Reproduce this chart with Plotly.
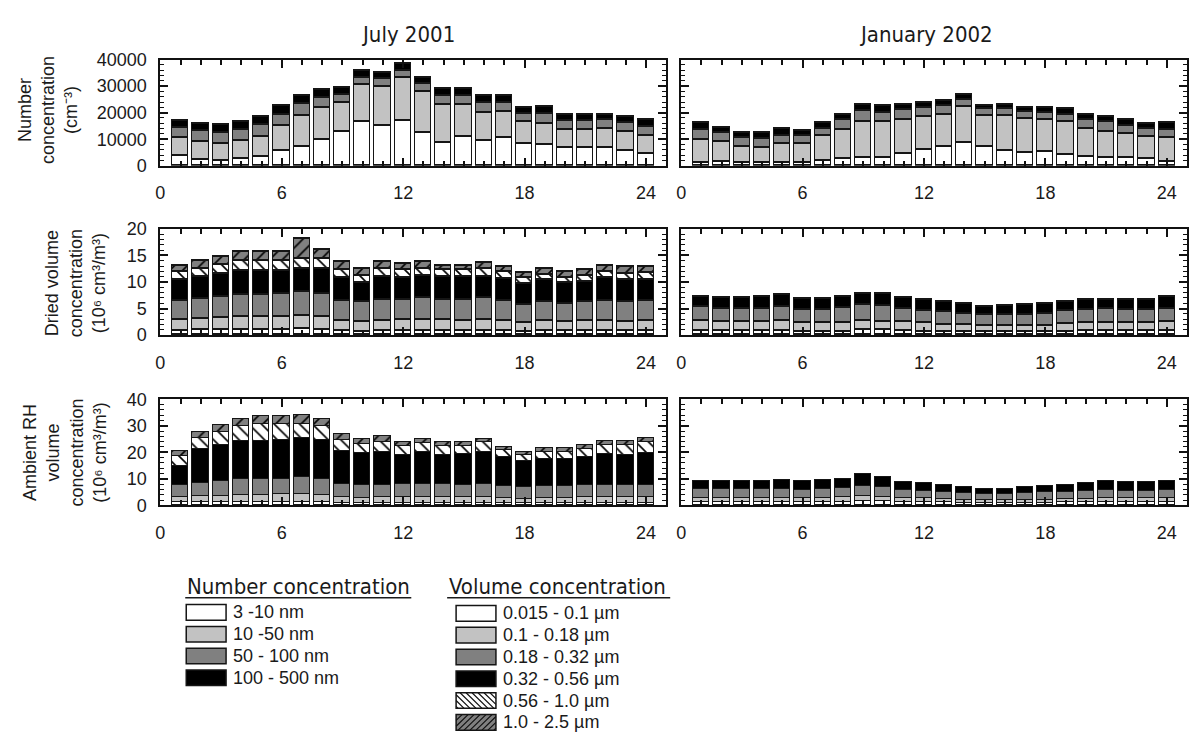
import plotly.graph_objects as go

W, H = 1195, 745

hours = list(range(1, 25))

# ---- Number concentration (cm^-3) by size bin ----
jul_n_3_10 = [3900, 2300, 1900, 2500, 3600, 5800, 7300, 10000, 12800, 16600, 15000, 16900,
              12500, 8800, 10900, 9500, 10600, 8200, 7900, 6700, 6700, 6900, 5700, 4500]
jul_n_10_50 = [6700, 6800, 6400, 6800, 7500, 9200, 11700, 11900, 10900, 14000, 15000, 16200,
               15300, 14200, 12100, 10700, 9800, 8300, 8100, 6900, 6900, 6900, 7200, 6800]
jul_n_50_100 = [3700, 4100, 4000, 4400, 4300, 4400, 4400, 3800, 3000, 2700, 2700, 2700,
                3200, 3600, 3600, 3700, 3500, 3300, 3800, 3400, 3400, 3400, 3400, 3400]
jul_n_100_500 = [2600, 2700, 3100, 2800, 3100, 3100, 3200, 3100, 2600, 2600, 2500, 2800,
                 2400, 2400, 2400, 2400, 2400, 2200, 2600, 2200, 2200, 2200, 2300, 2700]

jan_n_3_10 = [1300, 1700, 1300, 1200, 1300, 1300, 1800, 2600, 3200, 3200, 4500, 6000,
              7100, 8700, 7200, 5600, 5000, 5300, 4000, 3600, 2900, 2900, 2600, 1700]
jan_n_10_50 = [8600, 7300, 5900, 5700, 6900, 7200, 9400, 11000, 13500, 13500, 13000, 12500,
               12300, 13500, 11800, 13200, 12700, 12200, 12600, 10300, 10100, 9200, 8300, 8900]
jan_n_50_100 = [3700, 3400, 3400, 3300, 3300, 2800, 2900, 3700, 3900, 3500, 3500, 3400,
                3100, 2700, 2500, 2700, 2700, 2600, 2800, 3400, 3700, 3000, 3000, 3100]
jan_n_100_500 = [2500, 2100, 2000, 2100, 2400, 2100, 2300, 2100, 2500, 2300, 2100, 1900,
                 1900, 2000, 1300, 1700, 1600, 1900, 2100, 1800, 1800, 2200, 2100, 2500]

# ---- Dried volume concentration (10^6 cm^3/m^3) by size bin ----
jul_dv_015_01 = [0.8, 0.9, 0.9, 1.0, 1.0, 1.0, 1.1, 1.0, 0.7, 0.6, 0.7, 0.7,
                 0.7, 0.7, 0.7, 0.7, 0.7, 0.6, 0.7, 0.7, 0.7, 0.7, 0.7, 0.7]
jul_dv_01_018 = [2.0, 2.1, 2.3, 2.4, 2.4, 2.5, 2.5, 2.5, 2.0, 1.9, 2.0, 2.1,
                 2.1, 2.1, 2.0, 2.1, 2.0, 1.7, 2.0, 1.8, 2.0, 2.0, 1.8, 2.0]
jul_dv_018_032 = [3.7, 3.8, 4.0, 4.2, 4.2, 4.2, 4.5, 4.3, 3.8, 3.7, 4.0, 3.9,
                  4.1, 3.9, 4.0, 4.1, 3.7, 3.4, 3.5, 3.4, 3.5, 3.8, 3.7, 3.7]
jul_dv_032_056 = [3.9, 4.2, 4.4, 4.4, 4.4, 4.3, 4.3, 4.6, 4.2, 3.7, 4.2, 4.0,
                  4.3, 4.2, 4.2, 4.1, 4.2, 3.9, 4.1, 3.9, 3.9, 4.2, 4.2, 4.0]
jul_dv_056_10 = [1.4, 1.5, 1.7, 1.9, 1.9, 1.9, 2.0, 1.9, 1.5, 1.2, 1.5, 1.5,
                 1.3, 1.3, 1.3, 1.5, 1.2, 1.1, 1.1, 1.0, 1.1, 1.2, 1.2, 1.3]
jul_dv_10_25 = [1.3, 1.4, 1.5, 1.7, 1.7, 1.7, 3.7, 1.7, 1.6, 1.3, 1.4, 1.2,
                1.3, 0.9, 0.9, 1.1, 1.0, 1.0, 1.1, 1.1, 1.0, 1.1, 1.2, 1.1]

jan_dv_015_01 = [0.8, 0.8, 0.8, 0.8, 0.8, 0.6, 0.6, 0.6, 1.0, 0.9, 0.8, 0.6,
                 0.6, 0.6, 0.5, 0.6, 0.6, 0.6, 0.6, 0.7, 0.7, 0.7, 0.7, 0.8]
jan_dv_01_018 = [1.9, 1.7, 1.6, 1.6, 1.8, 1.7, 1.7, 1.7, 1.7, 1.5, 1.6, 1.7,
                 1.3, 1.3, 1.2, 1.2, 1.2, 1.2, 1.5, 1.6, 1.6, 1.6, 1.6, 1.7]
jan_dv_018_032 = [2.5, 2.5, 2.5, 2.6, 2.6, 2.5, 2.5, 2.8, 2.9, 3.0, 2.5, 2.3,
                  2.4, 2.1, 2.0, 2.0, 2.0, 2.2, 2.4, 2.5, 2.6, 2.5, 2.5, 2.5]
jan_dv_032_056 = [1.9, 1.9, 2.0, 2.1, 2.3, 2.0, 2.0, 2.1, 2.2, 2.3, 2.1, 2.1,
                  1.9, 1.8, 1.6, 1.6, 1.8, 1.8, 1.7, 1.8, 1.8, 1.8, 1.8, 2.1]
jan_dv_056_10 = [0.0] * 24
jan_dv_10_25 = [0.0] * 24

# ---- Ambient RH volume concentration (10^6 cm^3/m^3) by size bin ----
jul_av_015_01 = [1.0, 1.0, 1.0, 1.1, 1.1, 1.1, 1.2, 1.1, 0.8, 0.8, 0.8, 0.8,
                 0.8, 0.8, 0.8, 0.8, 0.8, 0.7, 0.8, 0.8, 0.8, 0.8, 0.8, 0.8]
jul_av_01_018 = [2.2, 2.5, 2.6, 2.6, 2.7, 2.9, 3.0, 2.7, 2.2, 2.0, 2.2, 2.2,
                 2.2, 2.2, 2.2, 2.2, 2.0, 1.6, 1.9, 1.9, 2.2, 2.2, 2.2, 2.2]
jul_av_018_032 = [4.3, 5.0, 5.5, 6.1, 6.2, 6.0, 6.3, 6.2, 4.9, 4.7, 4.5, 4.8,
                  5.1, 4.8, 4.7, 5.0, 4.5, 4.4, 4.5, 4.5, 4.5, 4.5, 4.5, 4.5]
jul_av_032_056 = [7.1, 12.6, 13.5, 14.4, 14.2, 14.6, 14.9, 14.6, 12.6, 12.0, 12.4, 11.1,
                  12.0, 11.2, 11.6, 12.1, 10.7, 9.8, 10.2, 10.0, 10.8, 11.8, 11.4, 12.1]
jul_av_056_10 = [4.0, 4.3, 4.9, 5.6, 6.5, 6.1, 5.3, 5.4, 3.9, 3.7, 3.9, 3.2,
                 3.2, 3.1, 2.8, 3.5, 2.7, 2.4, 2.5, 2.7, 2.8, 3.3, 3.7, 4.0]
jul_av_10_25 = [1.9, 2.3, 2.7, 2.5, 2.8, 2.9, 3.1, 2.6, 2.3, 1.6, 2.2, 1.7,
                1.8, 1.5, 1.5, 1.2, 1.3, 1.2, 1.5, 1.5, 1.5, 1.6, 1.4, 1.8]

jan_av_015_01 = [1.1, 1.1, 1.1, 1.1, 1.1, 1.1, 1.1, 1.1, 1.4, 1.4, 1.1, 1.1,
                 1.0, 0.9, 0.9, 0.9, 0.9, 0.9, 1.0, 1.0, 1.1, 1.1, 1.1, 1.1]
jan_av_01_018 = [1.7, 1.7, 1.7, 1.7, 1.7, 1.5, 1.7, 2.0, 2.1, 1.8, 1.5, 1.5,
                 1.2, 1.1, 1.0, 1.0, 1.1, 1.1, 1.2, 1.4, 1.5, 1.5, 1.5, 1.7]
jan_av_018_032 = [3.2, 3.2, 3.2, 3.2, 3.2, 3.2, 3.2, 3.4, 3.8, 3.7, 3.1, 2.8,
                  2.9, 2.4, 2.3, 2.3, 2.4, 2.8, 2.9, 3.0, 3.1, 2.8, 2.8, 2.9]
jan_av_032_056 = [3.0, 3.0, 3.0, 3.2, 3.5, 3.2, 3.3, 3.5, 4.5, 3.5, 2.9, 2.8,
                  2.6, 2.3, 2.0, 2.0, 2.3, 2.4, 2.6, 2.9, 3.3, 3.3, 3.3, 3.3]
jan_av_056_10 = [0.0] * 24
jan_av_10_25 = [0.0] * 24

number_bins = ["3 -10 nm", "10 -50 nm", "50 - 100 nm", "100 - 500 nm"]
volume_bins = ["0.015 - 0.1 \u00b5m", "0.1 - 0.18 \u00b5m", "0.18 - 0.32 \u00b5m",
               "0.32 - 0.56 \u00b5m", "0.56 - 1.0 \u00b5m", "1.0 - 2.5 \u00b5m"]
column_titles = ["July 2001", "January 2002"]
x_ticks = [0, 6, 12, 18, 24]

# fill styles shared by both legends: (fill colour, hatch shape)
STYLES = [("#ffffff", ""), ("#c2c2c2", ""), ("#808080", ""), ("#000000", ""),
          ("#ffffff", "\\"), ("#808080", "/")]

AXIS_FONT = dict(family="Liberation Sans, Arial, sans-serif", size=18, color="#1a1a1a")
TITLE_FONT = dict(family="DejaVu Sans Condensed, DejaVu Sans, sans-serif", size=22, color="#1a1a1a")
LEG_TITLE_FONT = dict(family="DejaVu Sans Condensed, DejaVu Sans, sans-serif", size=22, color="#1a1a1a")
LEG_ITEM_FONT = dict(family="Liberation Sans, Arial, sans-serif", size=18, color="#1a1a1a")

panels = [
    # (row, col, y-range, major dtick, minor dtick, segments)
    (0, 0, 40000, 10000, 2000, [jul_n_3_10, jul_n_10_50, jul_n_50_100, jul_n_100_500]),
    (0, 1, 40000, 10000, 2000, [jan_n_3_10, jan_n_10_50, jan_n_50_100, jan_n_100_500]),
    (1, 0, 20, 5, 1, [jul_dv_015_01, jul_dv_01_018, jul_dv_018_032, jul_dv_032_056,
                      jul_dv_056_10, jul_dv_10_25]),
    (1, 1, 20, 5, 1, [jan_dv_015_01, jan_dv_01_018, jan_dv_018_032, jan_dv_032_056,
                      jan_dv_056_10, jan_dv_10_25]),
    (2, 0, 40, 10, 2, [jul_av_015_01, jul_av_01_018, jul_av_018_032, jul_av_032_056,
                       jul_av_056_10, jul_av_10_25]),
    (2, 1, 40, 10, 2, [jan_av_015_01, jan_av_01_018, jan_av_018_032, jan_av_032_056,
                       jan_av_056_10, jan_av_10_25]),
]


def px(x):
    return x / W


def py(y):
    return 1 - y / H


col_px = [(156, 664), (679, 1187)]
row_px = [(51, 160), (225, 334), (400, 509)]

fig = go.Figure()
layout = {}

for i, (r, c, ymax, dt, mdt, segs) in enumerate(panels):
    n = i + 1
    xname = "x" if n == 1 else f"x{n}"
    yname = "y" if n == 1 else f"y{n}"
    for k, vals in enumerate(segs):
        color, shape = STYLES[k]
        marker = dict(color=color, line=dict(color="#151515", width=1.5))
        if shape:
            marker["pattern"] = dict(shape=shape, fillmode="replace", bgcolor=color,
                                     fgcolor="#000000", size=9, solidity=0.18)
        fig.add_trace(go.Bar(x=hours, y=vals, xaxis=xname, yaxis=yname, width=0.8,
                             marker=marker, showlegend=False, hoverinfo="skip"))

    x0, x1 = col_px[c]
    ytop, ybot = row_px[r]
    common = dict(showline=True, linewidth=2, linecolor="#111111", mirror="ticks",
                  showgrid=False, zeroline=False, ticks="inside", tickcolor="#111111",
                  tickwidth=1.5, tickfont=AXIS_FONT)
    layout["xaxis" if n == 1 else f"xaxis{n}"] = dict(
        domain=[px(x0), px(x1)], anchor=yname, range=[0, 25],
        tickmode="array", tickvals=x_ticks, ticktext=[str(v) for v in x_ticks],
        ticklen=8, ticklabelstandoff=10,
        minor=dict(tickmode="linear", tick0=0, dtick=1, ticks="inside", ticklen=5,
                   tickwidth=1.5, tickcolor="#111111"),
        **common)
    layout["yaxis" if n == 1 else f"yaxis{n}"] = dict(
        domain=[py(ybot), py(ytop)], anchor=xname, range=[0, ymax],
        tick0=0, dtick=dt, tickformat="d", ticklen=8, ticklabelstandoff=8,
        showticklabels=(c == 0),
        minor=dict(tick0=0, dtick=mdt, ticks="inside", ticklen=4, tickwidth=1.2,
                   tickcolor="#111111"),
        **common)

annotations = []
# column headings
for c, t in enumerate(column_titles):
    annotations.append(dict(x=px(405 if c == 0 else 925), y=py(25), xref="paper", yref="paper",
                            text=t, showarrow=False, font=TITLE_FONT,
                            xanchor="center", yanchor="middle"))

# row axis titles
row_titles = [
    ("Number<br>concentration<br>(cm\u207b\u00b3)", 43, 103),
    ("Dried volume<br>concentration<br>(10\u2076 cm\u00b3/m\u00b3)", 71, 281),
    ("Ambient RH<br>volume<br>concentration<br>(10\u2076 cm\u00b3/m\u00b3)", 60, 455),
]
for text, xc, yc in row_titles:
    annotations.append(dict(x=px(xc), y=py(yc), xref="paper", yref="paper", text=text,
                            showarrow=False, textangle=-90, font=AXIS_FONT,
                            xanchor="center", yanchor="middle"))

shapes = []


def hatch_path(x0, y0, x1, y1, kind, step=6):
    """Diagonal hatch lines clipped to a rectangle, in paper coordinates."""
    parts = []
    if kind == "/":
        c = x0 + y0
        while c <= x1 + y1:
            xa, xb = max(x0, c - y1), min(x1, c - y0)
            if xb > xa:
                parts.append(f"M{px(xa):.5f},{py(c - xa):.5f}L{px(xb):.5f},{py(c - xb):.5f}")
            c += step
    else:
        c = y0 - x1
        while c <= y1 - x0:
            xa, xb = max(x0, y0 - c), min(x1, y1 - c)
            if xb > xa:
                parts.append(f"M{px(xa):.5f},{py(xa + c):.5f}L{px(xb):.5f},{py(xb + c):.5f}")
            c += step
    return "".join(parts)


def legend_block(title, title_x0, title_x1, box_x0, labels, first_y, styles):
    annotations.append(dict(x=px(title_x0), y=py(592), xref="paper", yref="paper",
                            text=title, showarrow=False, font=LEG_TITLE_FONT,
                            xanchor="left", yanchor="middle"))
    shapes.append(dict(type="line", xref="paper", yref="paper",
                       x0=px(title_x0), x1=px(title_x1), y0=py(604), y1=py(604),
                       line=dict(color="#1a1a1a", width=1.5)))
    for k, lab in enumerate(labels):
        yc = first_y + 22.4 * k
        bx0, bx1, by0, by1 = box_x0, box_x0 + 40, yc - 8, yc + 8
        color, shape = styles[k]
        shapes.append(dict(type="rect", xref="paper", yref="paper",
                           x0=px(bx0), x1=px(bx1), y0=py(by1), y1=py(by0),
                           fillcolor=color, line=dict(width=0)))
        if shape:
            shapes.append(dict(type="path", xref="paper", yref="paper",
                               path=hatch_path(bx0, by0, bx1, by1, shape),
                               line=dict(color="#111111", width=1.2)))
        shapes.append(dict(type="rect", xref="paper", yref="paper",
                           x0=px(bx0), x1=px(bx1), y0=py(by1), y1=py(by0),
                           line=dict(color="#151515", width=1.5)))
        annotations.append(dict(x=px(bx1 + 5), y=py(yc), xref="paper", yref="paper",
                                text=lab, showarrow=False, font=LEG_ITEM_FONT,
                                xanchor="left", yanchor="middle"))


legend_block("Number concentration", 181, 408, 182, number_bins, 619, STYLES)
legend_block("Volume concentration", 444, 668, 453, volume_bins, 620, STYLES)

layout.update(dict(
    width=W, height=H, margin=dict(l=0, r=0, t=0, b=0),
    paper_bgcolor="white", plot_bgcolor="white", barmode="stack", bargap=0,
    showlegend=False, annotations=annotations, shapes=shapes,
))
fig.update_layout(**layout)
fig.write_html("out.html")
